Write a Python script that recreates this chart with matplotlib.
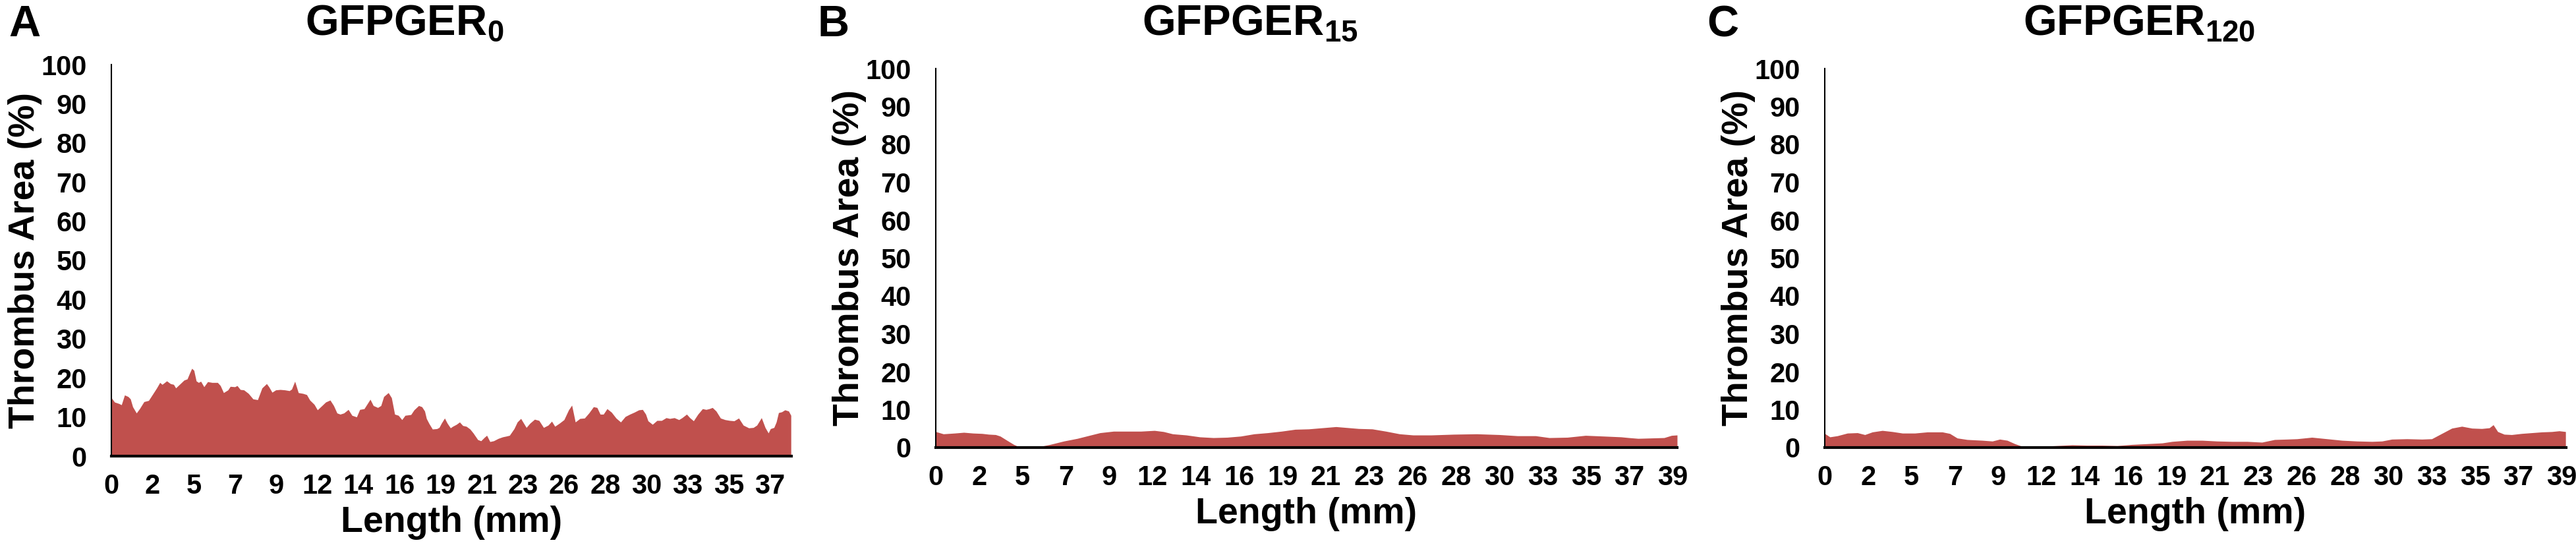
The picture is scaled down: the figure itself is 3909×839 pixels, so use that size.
import matplotlib
matplotlib.use("Agg")
import matplotlib.pyplot as plt
import numpy as np

plt.rcParams['font.family'] = ['Liberation Sans', 'DejaVu Sans']
plt.rcParams['font.weight'] = 'bold'
plt.rcParams['mathtext.fontset'] = 'custom'
plt.rcParams['mathtext.bf'] = 'Liberation Sans:bold'
plt.rcParams['mathtext.rm'] = 'Liberation Sans:bold'

# thrombus profiles: position along channel (mm) and area (%)
len_A = [0, 0.18, 0.44, 0.57, 0.75, 0.95, 1.08, 1.21, 1.42, 1.6, 1.85, 2.11, 2.37, 2.57, 2.75,
         2.88, 3.14, 3.35, 3.53, 3.65, 3.91, 4.12, 4.3, 4.43, 4.56, 4.68, 4.81, 4.94, 5.07, 5.25,
         5.46, 5.71, 6.02, 6.18, 6.36, 6.61, 6.74, 7.0, 7.13, 7.31, 7.51, 7.77, 8.03, 8.29, 8.54,
         8.8, 8.93, 9.11, 9.32, 9.57, 9.83, 10.09, 10.22, 10.4, 10.6, 10.86, 11.07, 11.25, 11.5,
         11.68, 11.94, 12.15, 12.4, 12.6, 12.79, 12.97, 13.18, 13.43, 13.64, 13.9, 14.08, 14.33,
         14.67, 14.85, 15.1, 15.28, 15.44, 15.7, 15.88, 16.06, 16.27, 16.47, 16.65, 16.98, 17.16,
         17.42, 17.6, 17.76, 17.86, 18.01, 18.2, 18.45, 18.58, 18.71, 18.89, 19.04, 19.22, 19.35,
         19.56, 19.74, 19.92, 20.12, 20.33, 20.51, 20.77, 20.95, 21.15, 21.28, 21.46, 21.67, 21.93,
         22.18, 22.39, 22.57, 22.83, 23.01, 23.21, 23.52, 23.73, 23.99, 24.24, 24.5, 24.76, 24.96,
         25.14, 25.4, 25.66, 25.92, 26.1, 26.3, 26.56, 26.82, 27.07, 27.33, 27.53, 27.71, 27.89,
         28.1, 28.35, 28.61, 28.87, 29.13, 29.39, 29.64, 29.9, 30.11, 30.29, 30.42, 30.67, 30.93,
         31.19, 31.45, 31.65, 31.91, 32.17, 32.35, 32.61, 32.79, 33.0, 33.25, 33.51, 33.71, 33.89,
         34.07, 34.28, 34.53, 34.79, 35.05, 35.3, 35.56, 35.82, 36.13, 36.39, 36.59, 36.85, 37.06,
         37.24, 37.36, 37.56, 37.69, 37.82, 38.0, 38.18, 38.39, 38.52]
area_A = [14.9, 13.8, 13.4, 13.1, 15.6, 15.2, 14.6, 12.6, 11.0, 12.1, 13.9, 14.2, 16.0, 17.4, 18.8,
          18.3, 19.2, 18.5, 18.3, 17.4, 18.5, 19.4, 19.7, 21.1, 22.4, 21.9, 19.2, 18.8, 19.1, 17.7,
          19.0, 18.8, 18.8, 18.0, 16.2, 16.9, 17.8, 17.7, 18.0, 17.0, 16.9, 16.0, 14.6, 14.4, 17.4,
          18.5, 17.7, 16.3, 16.9, 17.0, 16.9, 16.7, 17.1, 19.1, 16.2, 16.0, 15.7, 14.3, 13.2,
          11.8, 12.9, 13.8, 14.3, 12.9, 11.0, 10.7, 11.0, 11.9, 10.4, 10.0, 11.9, 12.1,
          14.5, 12.9, 12.4, 12.9, 15.2, 16.2, 14.9, 10.7, 10.4, 9.3, 10.4, 10.6, 11.8,
          12.9, 12.6, 11.5, 9.6, 8.3, 6.9, 7.0, 7.3, 8.4, 9.7, 8.4, 7.2, 7.6,
          8.1, 8.7, 7.8, 7.6, 6.9, 5.9, 4.2, 3.9, 4.8, 5.3, 3.7, 3.9, 4.5,
          4.9, 5.1, 5.3, 7.0, 8.7, 9.6, 7.3, 8.4, 9.4, 9.1, 7.3, 7.9, 8.9,
          7.6, 8.4, 9.3, 11.8, 13.0, 8.7, 9.6, 9.7, 11.0, 12.6, 12.4, 10.7, 10.7,
          12.1, 11.2, 9.7, 8.7, 10.1, 10.7, 11.2, 11.8, 11.9, 10.7, 9.0, 8.1, 9.1,
          9.1, 9.8, 9.6, 9.8, 9.3, 9.8, 10.7, 9.8, 9.0, 10.7, 12.1, 11.9, 12.1,
          12.4, 11.5, 9.7, 9.3, 9.1, 9.0, 9.7, 7.9, 7.2, 7.3, 7.9, 9.8, 7.3,
          5.9, 7.0, 7.3, 8.7, 11.1, 11.3, 11.8, 11.5, 10.4]

len_B = [0, 0.41, 1.02, 1.51, 2.0, 2.49, 2.85, 3.22, 3.47, 3.83, 4.2, 4.56, 5.05, 5.54, 6.15,
         6.89, 7.62, 8.35, 8.84, 9.57, 10.3, 11.04, 11.77, 12.26, 12.75, 13.48, 14.21, 14.94,
         15.68, 16.41, 17.14, 17.87, 18.61, 19.34, 20.07, 20.8, 21.54, 22.03, 22.76, 23.49,
         24.22, 24.96, 25.69, 26.67, 27.89, 29.11, 30.33, 31.31, 32.28, 33.02, 33.99, 34.97,
         35.95, 36.88, 37.3, 37.8, 38.5, 39.2, 39.6, 39.9]
area_B = [4.2, 3.6, 3.8, 4.0, 3.8, 3.7, 3.5, 3.4, 3.0, 1.9, 0.8, 0.0, 0.0, 0.2, 0.8,
          1.7, 2.4, 3.3, 3.9, 4.3, 4.3, 4.3, 4.5, 4.2, 3.6, 3.3, 2.8, 2.6,
          2.7, 3.0, 3.6, 3.9, 4.3, 4.8, 4.9, 5.2, 5.5, 5.3, 5.0, 4.9,
          4.3, 3.6, 3.3, 3.3, 3.5, 3.6, 3.4, 3.1, 3.1, 2.6, 2.7, 3.2,
          3.0, 2.8, 2.6, 2.4, 2.5, 2.6, 3.2, 3.3]

len_C = [0, 0.28, 0.68, 1.22, 1.76, 2.16, 2.56, 3.1, 3.64, 4.18, 4.85, 5.52, 6.33, 6.73, 7.13,
         7.67, 8.48, 9.02, 9.42, 9.82, 10.23, 10.63, 11.17, 11.71, 12.51, 13.32, 14.12, 14.93,
         15.74, 16.54, 17.35, 18.16, 18.7, 19.5, 20.31, 21.11, 21.92, 22.73, 23.53, 24.21,
         24.88, 25.42, 26.22, 27.03, 27.84, 28.64, 29.45, 29.99, 30.52, 31.33, 32.14, 32.67,
         33.21, 33.75, 34.29, 34.83, 35.36, 35.77, 35.98, 36.22, 36.57, 36.97, 37.51, 38.05,
         38.59, 39.13, 39.53, 39.87]
area_C = [3.7, 2.8, 3.1, 3.8, 3.9, 3.4, 4.1, 4.5, 4.2, 3.8, 3.8, 4.1, 4.1, 3.7, 2.5,
          2.1, 1.9, 1.7, 2.2, 1.9, 1.0, 0.3, 0.0, 0.3, 0.5, 0.7, 0.6, 0.6,
          0.5, 0.8, 1.0, 1.2, 1.6, 1.9, 1.9, 1.7, 1.6, 1.6, 1.4, 2.1,
          2.2, 2.3, 2.7, 2.3, 1.9, 1.7, 1.6, 1.7, 2.2, 2.3, 2.2, 2.3,
          3.7, 5.1, 5.6, 5.1, 5.0, 5.2, 6.0, 4.2, 3.5, 3.4, 3.7, 3.9,
          4.1, 4.2, 4.4, 4.2]

x_labels = ['0', '2', '5', '7', '9', '12', '14', '16', '19', '21', '23', '26', '28', '30',
            '33', '35', '37', '39']
y_ticks = [0, 10, 20, 30, 40, 50, 60, 70, 80, 90, 100]

titles = [r'$\mathbf{GFPGER_{0}}$', r'$\mathbf{GFPGER_{15}}$', r'$\mathbf{GFPGER_{120}}$']
letters = ['A', 'B', 'C']
data = [(len_A, area_A, 38.55, 17), (len_B, area_B, 39.9, 18), (len_C, area_C, 39.9, 18)]

W, H = 3909, 839
fig = plt.figure(figsize=(W / 100, H / 100), dpi=100)

# axes boxes in pixels: left, right, top, bottom
boxes = [(169, 1201, 98, 692), (1420, 2545, 104, 679), (2769, 3894, 104, 679)]
title_x = [463, 1733, 3070]
letter_x = [13, 1240, 2590]

fill_col = '#C0504D'

for i in range(3):
    l, r, t, b = boxes[i]
    ax = fig.add_axes([l / W, 1 - b / H, (r - l) / W, (b - t) / H])
    xs, ys, xmax, nlab = data[i]
    ax.fill_between(xs, ys, 0, color=fill_col, linewidth=0)
    ax.set_xlim(0, xmax)
    ax.set_ylim(0, 100)
    ax.set_yticks(y_ticks)
    ax.set_yticklabels([str(v) for v in y_ticks])
    ax.set_xticks([k * 7 / 3 for k in range(nlab)])
    ax.set_xticklabels(x_labels[:nlab])
    ax.tick_params(axis='both', length=0, labelsize=30)
    ax.tick_params(axis='y', pad=27)
    ax.tick_params(axis='x', pad=19)
    for lab in ax.get_xticklabels() + ax.get_yticklabels():
        lab.set_fontweight('bold')
    ax.spines['top'].set_visible(False)
    ax.spines['right'].set_visible(False)
    ax.spines['left'].set_linewidth(1.5)
    ax.spines['bottom'].set_linewidth(3)
    ax.set_xlabel('Length (mm)', fontsize=40, fontweight='bold', labelpad=6)
    ax.set_ylabel('Thrombus Area (%)', fontsize=40, fontweight='bold')
    # label sits 106 px left of the y axis in every panel
    ax.yaxis.set_label_coords(-105 / (r - l), 0.5)
    fig.text(title_x[i] / W, 1 - 53 / H, titles[i], fontsize=47, ha='left', va='baseline')
    fig.text(letter_x[i] / W, 1 - 55 / H, letters[i], fontsize=48, fontweight='bold',
             ha='left', va='baseline')

plt.savefig('out.png', dpi=100)
